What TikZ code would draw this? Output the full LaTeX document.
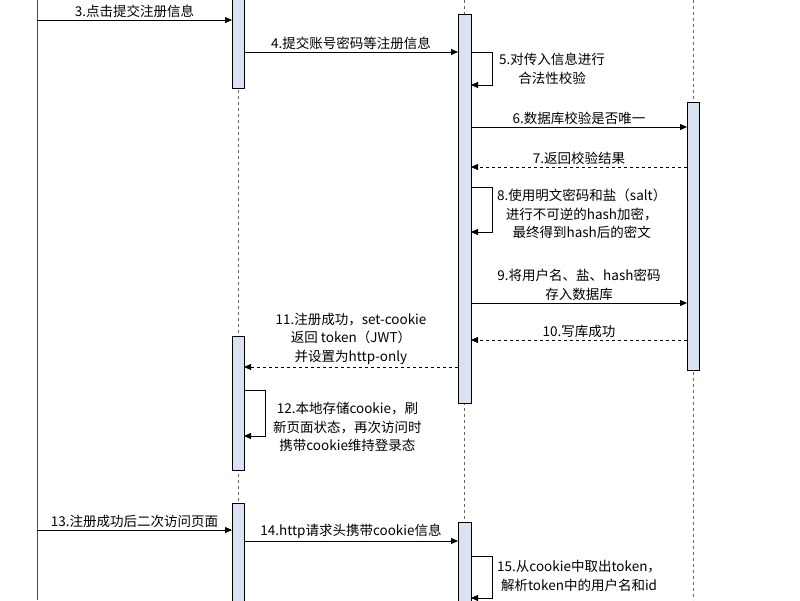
\documentclass[tikz,border=0pt]{standalone}
\usepackage{fontspec}
\setmainfont{Noto Sans CJK SC}
\usetikzlibrary{arrows.meta}
\definecolor{barfill}{HTML}{DAE1F0}
\begin{document}
\begin{tikzpicture}[x=1pt,y=-1pt,
  life/.style={draw=black!60,dash pattern=on 3pt off 3pt,line width=0.6pt},
  bar/.style={draw=black,fill=barfill,line width=0.8pt},
  msg/.style={-{Triangle[length=7pt,width=6pt]},line width=0.8pt},
  ret/.style={msg,dash pattern=on 3pt off 3pt},
  lbl/.style={font=\fontsize{13.5}{18.5}\selectfont,align=center,inner sep=1pt}]
\useasboundingbox (0,0) rectangle (800,600);
\draw[black!70,line width=0.6pt] (37,0) -- (37,600);
\draw[life] (238,0) -- (238,600);
\draw[life] (464,0) -- (464,600);
\draw[life] (693,0) -- (693,600);
\draw[bar] (232,-2) rectangle (244,88);
\draw[bar] (232,336) rectangle (244,470);
\draw[bar] (232,503) rectangle (244,602);
\draw[bar] (458,14) rectangle (471,403);
\draw[bar] (458,522) rectangle (471,602);
\draw[bar] (687,102) rectangle (699,370);
\coordinate (u3) at (37,20); \coordinate (b3) at (232,20);
\draw[msg] (u3) -- (b3) node[lbl,midway,above=1pt] (l3) {3.点击提交注册信息};
\coordinate (b4) at (244,52); \coordinate (s4) at (458,52);
\draw[msg] (b4) -- (s4) node[lbl,midway,above=1pt] (l4) {4.提交账号密码等注册信息};
\coordinate (s5a) at (471,52); \coordinate (s5b) at (471,85);
\draw[msg] (s5a) -- (492,52) -- (492,85) -- (s5b);
\node[lbl,anchor=west] (l5) at (498,69) {5.对传入信息进行\\合法性校验};
\coordinate (s6) at (471,127); \coordinate (d6) at (687,127);
\draw[msg] (s6) -- (d6) node[lbl,midway,above=1pt] (l6) {6.数据库校验是否唯一};
\coordinate (d7) at (687,167); \coordinate (s7) at (471,167);
\draw[ret] (d7) -- (s7) node[lbl,midway,above=1pt] (l7) {7.返回校验结果};
\coordinate (s8a) at (471,187); \coordinate (s8b) at (471,232);
\draw[msg] (s8a) -- (492,187) -- (492,232) -- (s8b);
\node[lbl,anchor=west] (l8) at (496,214) {8.使用明文密码和盐（salt）\\进行不可逆的hash加密，\\最终得到hash后的密文};
\coordinate (s9) at (471,303); \coordinate (d9) at (687,303);
\draw[msg] (s9) -- (d9) node[lbl,midway,above=1pt] (l9) {9.将用户名、盐、hash密码\\存入数据库};
\coordinate (d10) at (687,340); \coordinate (s10) at (471,340);
\draw[ret] (d10) -- (s10) node[lbl,midway,above=1pt] (l10) {10.写库成功};
\coordinate (s11) at (458,367); \coordinate (b11) at (244,367);
\draw[ret] (s11) -- (b11) node[lbl,midway,above=1pt] (l11) {11.注册成功，set-cookie\\返回 token（JWT）\\并设置为http-only};
\coordinate (b12a) at (244,390); \coordinate (b12b) at (244,436);
\draw[msg] (b12a) -- (265,390) -- (265,436) -- (b12b);
\node[lbl,anchor=west] (l12) at (272,427) {12.本地存储cookie，刷\\新页面状态，再次访问时\\携带cookie维持登录态};
\coordinate (u13) at (37,530); \coordinate (b13) at (232,530);
\draw[msg] (u13) -- (b13) node[lbl,midway,above=1pt] (l13) {13.注册成功后二次访问页面};
\coordinate (b14) at (244,541); \coordinate (s14) at (458,541);
\draw[msg] (b14) -- (s14) node[lbl,midway,above=1pt] (l14) {14.http请求头携带cookie信息};
\coordinate (s15a) at (471,556); \coordinate (s15b) at (471,598);
\draw[msg] (s15a) -- (492,556) -- (492,598) -- (s15b);
\node[lbl,anchor=west] (l15) at (496,576) {15.从cookie中取出token，\\解析token中的用户名和id};
\end{tikzpicture}
\end{document}
